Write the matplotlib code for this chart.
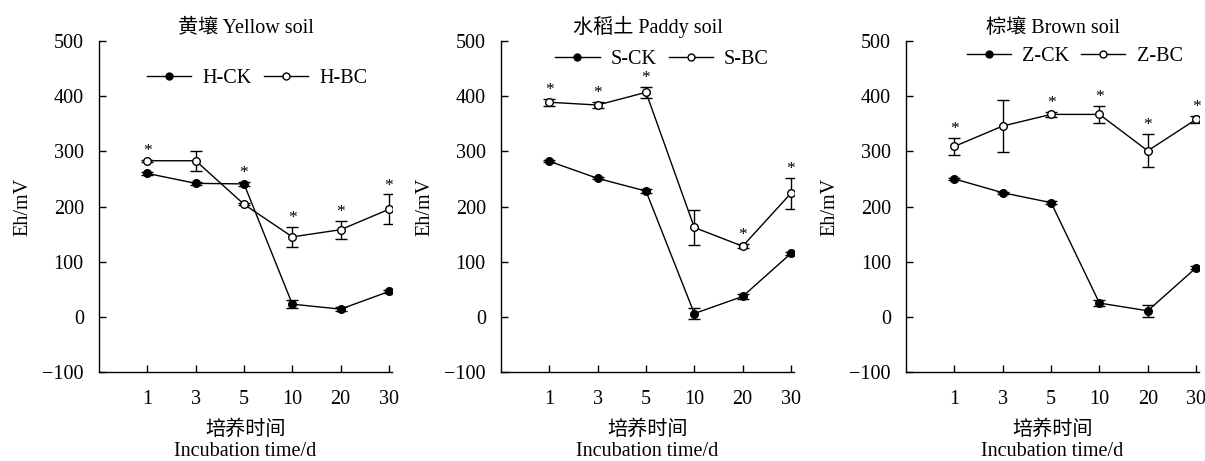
import matplotlib
matplotlib.use("Agg")
import matplotlib.pyplot as plt
from matplotlib.lines import Line2D
import numpy as np

days = ["1", "3", "5", "10", "20", "30"]

titles = ["黄壤 Yellow soil", "水稻土 Paddy soil", "棕壤 Brown soil"]
ck_labels = ["H-CK", "S-CK", "Z-CK"]
bc_labels = ["H-BC", "S-BC", "Z-BC"]

h_ck = [260, 242, 241, 23, 14, 46]
h_ck_err = [3, 3, 4, 7, 3, 2]
h_bc = [283, 283, 204, 145, 158, 195]
h_bc_err = [2, 18, 2, 18, 16, 27]
h_sig = [True, False, True, True, True, True]

s_ck = [282, 251, 228, 6, 37, 115]
s_ck_err = [2, 2, 3, 10, 4, 3]
s_bc = [389, 384, 407, 162, 128, 224]
s_bc_err = [6, 6, 10, 32, 4, 28]
s_sig = [True, True, True, False, True, True]

z_ck = [250, 225, 207, 25, 11, 89]
z_ck_err = [2, 2, 3, 6, 11, 3]
z_bc = [309, 346, 367, 367, 301, 358]
z_bc_err = [16, 47, 5, 16, 30, 6]
z_sig = [True, False, True, True, True, True]

ck_all = [h_ck, s_ck, z_ck]
ck_err_all = [h_ck_err, s_ck_err, z_ck_err]
bc_all = [h_bc, s_bc, z_bc]
bc_err_all = [h_bc_err, s_bc_err, z_bc_err]
sig_all = [h_sig, s_sig, z_sig]

fonts = ["Liberation Serif", "Noto Sans CJK SC", "DejaVu Sans"]
plt.rcParams["font.family"] = fonts
plt.rcParams["font.size"] = 14.5
plt.rcParams["axes.linewidth"] = 1.0

fig = plt.figure(figsize=(12.05, 4.61), dpi=100)
lefts = [0.0822, 0.4158, 0.752]
legend_pos = [(0.54, 0.888), (0.55, 0.943), (0.575, 0.952)]
w, b, h = 0.243, 0.193, 0.718

x = np.arange(len(days))
for i in range(3):
    ax = fig.add_axes([lefts[i], b, w, h])
    ax.errorbar(x, ck_all[i], yerr=ck_err_all[i], color="black", lw=1.0,
                marker="o", ms=5.5, mfc="black", mec="black", capsize=4,
                elinewidth=1.0, capthick=1.0)
    ax.errorbar(x, bc_all[i], yerr=bc_err_all[i], color="black", lw=1.0,
                marker="o", ms=5.5, mfc="white", mec="black", mew=1.0,
                capsize=4, elinewidth=1.0, capthick=1.0)
    tops = np.maximum(np.array(ck_all[i]) + np.array(ck_err_all[i]),
                      np.array(bc_all[i]) + np.array(bc_err_all[i]))
    for xi, t, s in zip(x, tops, sig_all[i]):
        if s:
            ax.annotate("*", (xi, t), xytext=(0, 3.5), textcoords="offset points",
                        ha="center", va="baseline", fontsize=12.5)
    ax.set_xlim(-1, 5.06)
    ax.set_ylim(-100, 500)
    ax.set_yticks(range(-100, 501, 100))
    ax.set_yticklabels(["\u2212100"] + [str(v) for v in range(0, 501, 100)])
    ax.set_xticks(x)
    ax.set_xticklabels(days)
    ax.spines["top"].set_visible(False)
    ax.spines["right"].set_visible(False)
    ax.tick_params(direction="in", length=5, width=1.0, labelsize=14.5)
    ax.tick_params(axis="y", pad=11)
    ax.tick_params(axis="x", pad=13)
    ax.set_ylabel("Eh/mV", fontsize=14.5, labelpad=7)
    ax.set_xlabel("培养时间\nIncubation time/d", fontsize=14.5, labelpad=8,
                  linespacing=1.15)
    ax.set_title(titles[i], fontsize=14.5, pad=6)
    handles = [
        Line2D([], [], color="black", lw=1.0, marker="o", ms=5, mfc="black", mec="black"),
        Line2D([], [], color="black", lw=1.0, marker="o", ms=5, mfc="white", mec="black"),
    ]
    ax.legend(handles, [ck_labels[i], bc_labels[i]], loc="center",
              bbox_to_anchor=legend_pos[i], ncol=2, frameon=False,
              handlelength=2.2, handletextpad=0.55, columnspacing=0.6,
              fontsize=14.5, borderpad=0)

fig.savefig("out.png", dpi=100)
